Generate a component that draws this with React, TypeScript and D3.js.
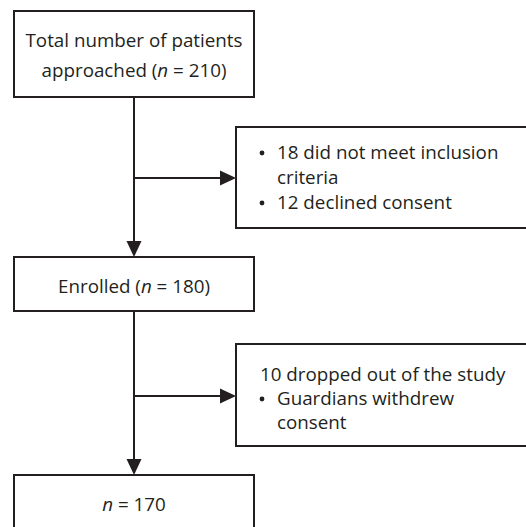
import React from "react";
import * as d3 from "d3";

const W = 526;
const H = 527;

// Flow content
const mainBoxes = [
  { id: "approached", lines: [[{ t: "Total number of patients" }], [{ t: "approached (" }, { t: "n", i: true }, { t: " = 210)" }]], x0: 14, x1: 254, y0: 11, y1: 97, baselines: [47, 77] },
  { id: "enrolled", lines: [[{ t: "Enrolled (" }, { t: "n", i: true }, { t: " = 180)" }]], x0: 14, x1: 254, y0: 257, y1: 311, baselines: [293] },
  { id: "final", lines: [[{ t: "n", i: true }, { t: " = 170" }]], x0: 14, x1: 254, y0: 475, y1: 560, baselines: [511] },
];

const sideBoxes = [
  {
    id: "excluded", x0: 236, x1: 600, y0: 127, y1: 228, arrowY: 178,
    lines: [
      { t: "18 did not meet inclusion", bullet: true, baseline: 159 },
      { t: "criteria", bullet: false, indent: true, baseline: 184 },
      { t: "12 declined consent", bullet: true, baseline: 209 },
    ],
  },
  {
    id: "dropped", x0: 236, x1: 600, y0: 344, y1: 446, arrowY: 396,
    lines: [
      { t: "10 dropped out of the study", bullet: false, indent: false, baseline: 381 },
      { t: "Guardians withdrew", bullet: true, baseline: 405 },
      { t: "consent", bullet: false, indent: true, baseline: 429 },
    ],
  },
];

const INK = "#231f20";
const FONT = "'Open Sans', 'Noto Sans', sans-serif";
const FS = 18.8;

function Arrow({ x1, y1, x2, y2 }: { x1: number; y1: number; x2: number; y2: number }) {
  const ang = Math.atan2(y2 - y1, x2 - x1);
  const len = 16, hw = 7.5;
  const bx = x2 - len * Math.cos(ang), by = y2 - len * Math.sin(ang);
  const px = -Math.sin(ang) * hw, py = Math.cos(ang) * hw;
  const line = d3.line();
  return (
    <g>
      <path d={line([[x1, y1], [bx, by]]) || ""} stroke={INK} strokeWidth={2} fill="none" />
      <path d={line([[x2, y2], [bx + px, by + py], [bx - px, by - py]]) + "Z"} fill={INK} />
    </g>
  );
}

export default function App() {
  const cx = (mainBoxes[0].x0 + mainBoxes[0].x1) / 2;
  const line = d3.line();
  return (
    <svg width={W} height={H} style={{ position: "absolute", left: 0, top: 0, background: "#fff", overflow: "hidden" }} fontFamily={FONT} fontSize={FS} fill={INK}>
      <rect x={0} y={0} width={W} height={H} fill="#fff" />
      {mainBoxes.map((b) => (
        <g key={b.id}>
          <rect x={b.x0} y={b.y0} width={b.x1 - b.x0} height={b.y1 - b.y0} fill="#fff" stroke={INK} strokeWidth={2} />
          {b.lines.map((ln, i) => (
            <text key={i} x={cx} y={b.baselines[i]} textAnchor="middle">
              {ln.map((s, j) => (
                <tspan key={j} fontStyle={(s as any).i ? "italic" : "normal"}>{s.t}</tspan>
              ))}
            </text>
          ))}
        </g>
      ))}
      {mainBoxes.slice(0, -1).map((b, i) => (
        <Arrow key={"v" + i} x1={cx} y1={b.y1} x2={cx} y2={mainBoxes[i + 1].y0} />
      ))}
      {sideBoxes.map((b) => (
        <g key={b.id}>
          <Arrow x1={cx} y1={b.arrowY} x2={b.x0} y2={b.arrowY} />
          <path d={line([[W + 5, b.y0], [b.x0, b.y0], [b.x0, b.y1], [W + 5, b.y1]]) || ""} fill="#fff" stroke={INK} strokeWidth={2} />
          {b.lines.map((ln, i) => (
            <g key={i}>
              {ln.bullet && <circle cx={262} cy={ln.baseline - 6} r={2.4} fill={INK} />}
              <text x={ln.bullet || ln.indent ? 277 : 260} y={ln.baseline}>{ln.t}</text>
            </g>
          ))}
        </g>
      ))}
    </svg>
  );
}
